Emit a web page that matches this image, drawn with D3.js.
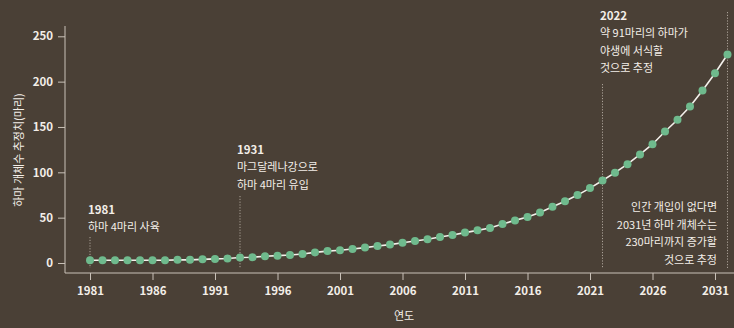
<!DOCTYPE html>
<html>
<head>
<meta charset="utf-8">
<script src="https://cdn.jsdelivr.net/npm/d3@7"></script>
<style>
  html, body { margin: 0; padding: 0; background: #4a4036; }
  svg { display: block; }
  text { font-family: "Noto Sans CJK KR", "Noto Sans", sans-serif; }
</style>
</head>
<body>
<svg id="chart" width="734" height="328"></svg>
<script>
// Estimated hippo population per year (1981–2032)
const years = d3.range(1981, 2033);
const population = [
  3, 3, 3, 3, 3, 3, 3, 3.5, 3.5, 4,
  4.5, 5, 6, 6.3, 7.4, 8.1, 8.8, 9.9, 11.7, 13.1,
  14, 15.4, 17, 18.7, 20.3, 22.3, 24.2, 26.1, 28.6, 30.8,
  33.5, 36, 38.5, 43, 47, 50.7, 55.8, 62, 68, 74.9,
  82.6, 91, 99.6, 109, 119.7, 131, 145, 158, 172.6, 190.2,
  209.3, 230
];
const xTicks = [1981, 1986, 1991, 1996, 2001, 2006, 2011, 2016, 2021, 2026, 2031];
const yTicks = [0, 50, 100, 150, 200, 250];

// Annotations: year marked by a dotted guide, title line and body lines
const notes = [
  { year: 1981, top: 237, title: "1981", lines: ["하마 4마리 사육"], tx: 88, ty: 214, anchor: "start" },
  { year: 1993, top: 196, title: "1931", lines: ["마그달레나강으로", "하마 4마리 유입"], tx: 237, ty: 154, anchor: "start" },
  { year: 2022, top: 84, title: "2022", lines: ["약 91마리의 하마가", "야생에 서식할", "것으로 추정"], tx: 600, ty: 20, anchor: "start" },
  { year: 2032, top: 12, title: null, lines: ["인간 개입이 없다면", "2031년 하마 개체수는", "230마리까지 증가할", "것으로 추정"], tx: 717, ty: 211, anchor: "end" }
];

const svg = d3.select("#chart");
const W = 734, H = 328;

const axisLeftX = 65, axisBottomY = 273;
const x = d3.scaleLinear().domain([1981, 2031]).range([90, 715]);
const y = d3.scaleLinear().domain([0, 250]).range([263, 36.3]);

const axisColor = "#c9c1b8";
const textColor = "#f3eee8";

// Axis lines
svg.append("line")
  .attr("x1", axisLeftX).attr("x2", axisLeftX)
  .attr("y1", 26).attr("y2", axisBottomY)
  .attr("stroke", axisColor).attr("stroke-width", 1);
svg.append("line")
  .attr("x1", axisLeftX).attr("x2", W)
  .attr("y1", axisBottomY).attr("y2", axisBottomY)
  .attr("stroke", axisColor).attr("stroke-width", 1);

// Y axis
const gy = svg.append("g")
  .attr("transform", `translate(${axisLeftX},0)`)
  .call(d3.axisLeft(y).tickValues(yTicks).tickSize(7).tickPadding(5));
gy.select(".domain").remove();
gy.selectAll(".tick line").attr("stroke", axisColor);
gy.selectAll(".tick text")
  .attr("fill", textColor)
  .attr("font-size", 11.5)
  .attr("font-weight", "bold")
  .attr("font-family", "'Noto Sans CJK KR', sans-serif");

// X axis
const gx = svg.append("g")
  .attr("transform", `translate(0,${axisBottomY})`)
  .call(d3.axisBottom(x).tickValues(xTicks).tickFormat(d3.format("d")).tickSize(7).tickPadding(7));
gx.select(".domain").remove();
gx.selectAll(".tick line").attr("stroke", axisColor);
gx.selectAll(".tick text")
  .attr("fill", textColor)
  .attr("font-size", 11.5)
  .attr("font-weight", "bold")
  .attr("font-family", "'Noto Sans CJK KR', sans-serif");

// Axis titles
svg.append("text")
  .attr("x", 404).attr("y", 320)
  .attr("text-anchor", "middle")
  .attr("fill", textColor)
  .attr("font-size", 11)
  .text("연도");
svg.append("text")
  .attr("transform", "translate(23,150) rotate(-90)")
  .attr("text-anchor", "middle")
  .attr("fill", textColor)
  .attr("font-size", 11)
  .text("하마 개체수 추정치(마리)");

// Dotted guides
svg.append("g").selectAll("line").data(notes).join("line")
  .attr("x1", d => x(d.year)).attr("x2", d => x(d.year))
  .attr("y1", d => d.top).attr("y2", 268)
  .attr("stroke", "#aaa197")
  .attr("stroke-width", 1)
  .attr("stroke-dasharray", "1.2,1.6");

// Annotation text
const ng = svg.append("g").selectAll("g").data(notes).join("g");
ng.each(function (d) {
  const g = d3.select(this);
  let yy = d.ty;
  if (d.title) {
    g.append("text")
      .attr("x", d.tx).attr("y", yy)
      .attr("text-anchor", d.anchor)
      .attr("fill", textColor)
      .attr("font-size", 11.5)
      .attr("font-weight", "bold")
      .text(d.title);
    yy += 17;
  }
  d.lines.forEach(line => {
    g.append("text")
      .attr("x", d.tx).attr("y", yy)
      .attr("text-anchor", d.anchor)
      .attr("fill", textColor)
      .attr("font-size", 11)
      .text(line);
    yy += 17.5;
  });
});

// Population line and points
const line = d3.line()
  .x((d, i) => x(years[i]))
  .y(d => y(d));
svg.append("path")
  .datum(population)
  .attr("d", line)
  .attr("fill", "none")
  .attr("stroke", "#f4f1ec")
  .attr("stroke-width", 1.6);

svg.append("g").selectAll("circle").data(population).join("circle")
  .attr("cx", (d, i) => x(years[i]))
  .attr("cy", d => y(d))
  .attr("r", 4)
  .attr("fill", "#6fba8d");
</script>
</body>
</html>
